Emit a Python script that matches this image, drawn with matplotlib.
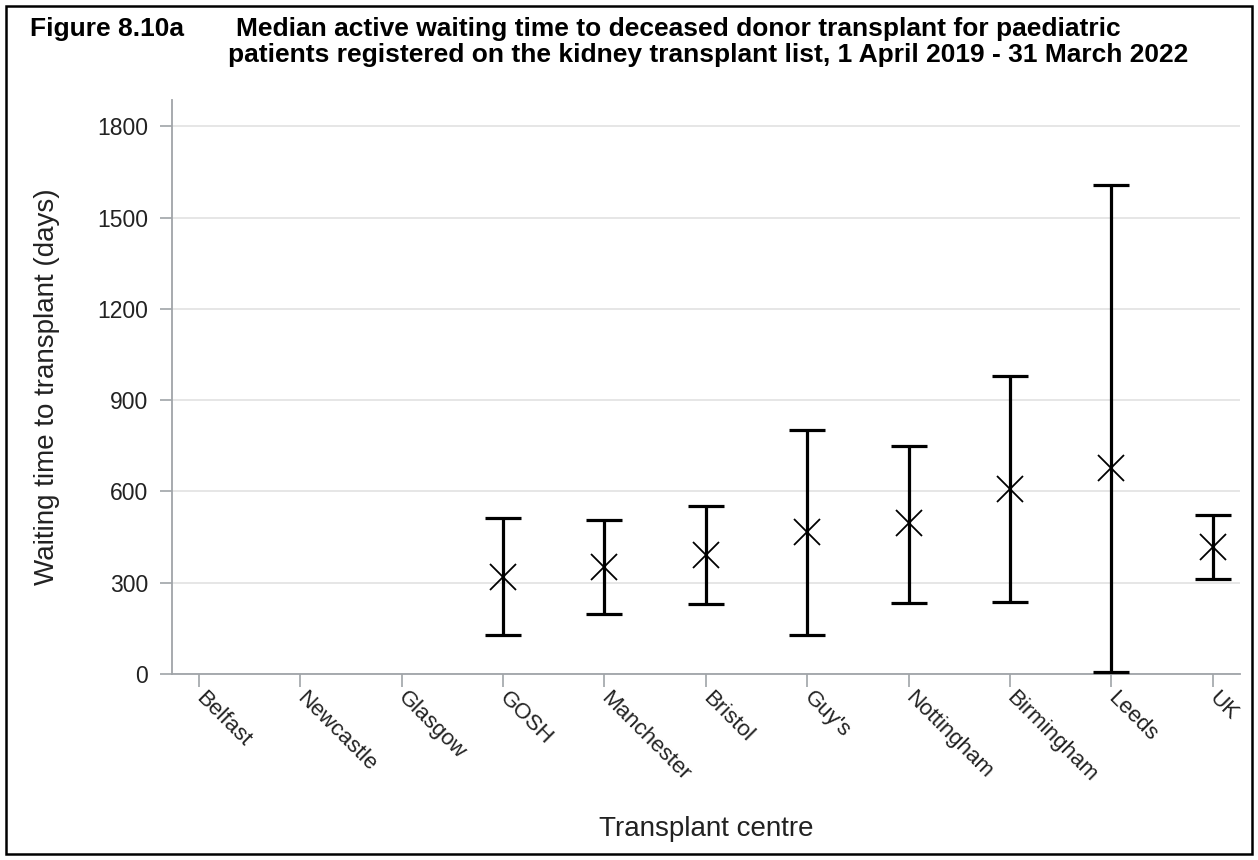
import numpy as np
import matplotlib.pyplot as plt
from matplotlib.patches import Rectangle

plt.rcParams['font.family'] = ['Liberation Sans', 'DejaVu Sans']

centres = ['Belfast', 'Newcastle', 'Glasgow', 'GOSH', 'Manchester', 'Bristol',
           "Guy's", 'Nottingham', 'Birmingham', 'Leeds', 'UK']
median_days = [np.nan, np.nan, np.nan, 320, 351, 391, 468, 495, 607, 677, 417]
lower_days = [np.nan, np.nan, np.nan, 129, 196, 231, 129, 233, 238, 5, 311]
upper_days = [np.nan, np.nan, np.nan, 512, 505, 553, 803, 749, 981, 1607, 524]
y_ticks = [0, 300, 600, 900, 1200, 1500, 1800]

W, H = 1258, 860
fig = plt.figure(figsize=(W / 100, H / 100), dpi=100)
ax = fig.add_axes([171.7 / W, 1 - 674 / H, (1240 - 171.7) / W, (674 - 100) / H])

x = np.arange(len(centres))
med = np.array(median_days, dtype=float)
lo = np.array(lower_days, dtype=float)
hi = np.array(upper_days, dtype=float)
ok = ~np.isnan(med)

ax.errorbar(x[ok], med[ok], yerr=[med[ok] - lo[ok], hi[ok] - med[ok]],
            fmt='none', ecolor='black', elinewidth=2.3, capsize=13,
            capthick=2.3, clip_on=False, zorder=3)
ax.plot(x[ok], med[ok], 'x', color='black', markersize=19,
        markeredgewidth=1.3, zorder=4, clip_on=False)

ax.set_xlim(-0.27, 10.27)
ax.set_ylim(0, 1887)
ax.set_yticks(y_ticks)
ax.set_xticks(x)
ax.set_xticklabels(centres, rotation=-45, ha='left', va='center',
                   rotation_mode='anchor')

grey = '#a0a4a8'
ax.yaxis.grid(True, color='#e4e4e4', linewidth=1.3, zorder=0)
ax.set_axisbelow(True)
for s in ['top', 'right']:
    ax.spines[s].set_visible(False)
for s in ['left', 'bottom']:
    ax.spines[s].set_color(grey)
    ax.spines[s].set_linewidth(1.3)
ax.tick_params(axis='both', colors=grey, length=9, width=1.2, pad=8,
               labelcolor='#222222', labelsize=16.5)
ax.tick_params(axis='x', pad=6, labelsize=16)

ax.set_ylabel('Waiting time to transplant (days)', fontsize=20,
              color='#222222')
ax.yaxis.set_label_coords(-0.105, 0.5)
ax.set_xlabel('Transplant centre', fontsize=20, color='#222222')
ax.xaxis.set_label_coords(0.5, -0.248)

title_kw = dict(fontsize=19, fontweight='bold', ha='left', va='center')
fig.text(30 / W, 1 - 29 / H, 'Figure 8.10a', **title_kw)
fig.text(236 / W, 1 - 29 / H,
         'Median active waiting time to deceased donor transplant for paediatric',
         **title_kw)
fig.text(228 / W, 1 - 55 / H,
         'patients registered on the kidney transplant list, 1 April 2019 - 31 March 2022',
         **title_kw)

fig.patches.append(Rectangle((6 / W, 6 / H), 1 - 12 / W, 1 - 12 / H,
                             transform=fig.transFigure, fill=False,
                             edgecolor='black', linewidth=1.8))

fig.savefig('out.png', dpi=100)
